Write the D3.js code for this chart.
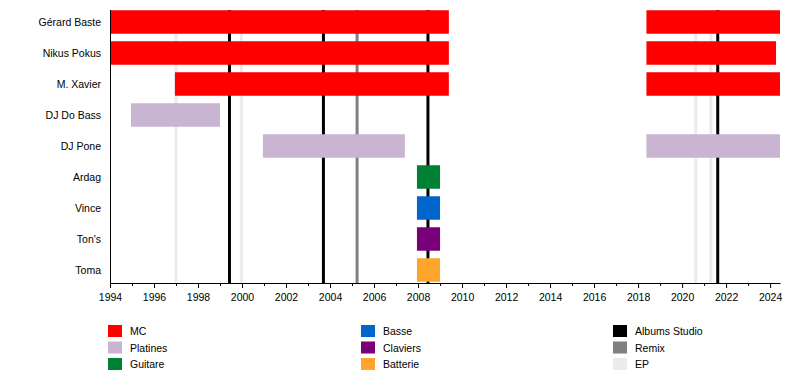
<!DOCTYPE html>
<html>
<head>
<meta charset="utf-8">
<script src="https://cdn.jsdelivr.net/npm/d3@7"></script>
<style>
  body { margin: 0; background: #fff; }
  text { font-family: "Liberation Sans", Arial, sans-serif; }
</style>
</head>
<body>
<div id="viz"></div>
<script>
// size of the picture
const F_WIDTH = 800;
const F_HEIGHT = 382;

// data
const members = ["Gérard Baste", "Nikus Pokus", "M. Xavier", "DJ Do Bass", "DJ Pone", "Ardag", "Vince", "Ton's", "Toma"];
const roles = ["MC", "Platines", "Guitare", "Basse", "Claviers", "Batterie"];
const roleColors = ["#ff0000", "#c9b4d2", "#008033", "#0066cc", "#7a007a", "#ffa52c"];

// member, role, start, end
const periods = [
  ["Gérard Baste", "MC", 1994, 2009.4],
  ["Gérard Baste", "MC", 2018.38, 2024.45],
  ["Nikus Pokus", "MC", 1994, 2009.4],
  ["Nikus Pokus", "MC", 2018.38, 2024.27],
  ["M. Xavier", "MC", 1996.95, 2009.4],
  ["M. Xavier", "MC", 2018.38, 2024.45],
  ["DJ Do Bass", "Platines", 1994.95, 1999.0],
  ["DJ Pone", "Platines", 2000.95, 2007.4],
  ["DJ Pone", "Platines", 2018.38, 2024.45],
  ["Ardag", "Guitare", 2007.95, 2009.0],
  ["Vince", "Basse", 2007.95, 2009.0],
  ["Ton's", "Claviers", 2007.95, 2009.0],
  ["Toma", "Batterie", 2007.95, 2009.0]
];

const albums = [1999.43, 2003.7, 2008.45, 2021.62];
const remixes = [2005.23];
const eps = [1997.0, 1999.97, 2020.62, 2021.31];

const releaseTypes = ["Albums Studio", "Remix", "EP"];
const releaseColors = ["#000000", "#808080", "#ebebeb"];

const majorTicks = d3.range(1994, 2025, 2);
const minorTicks = d3.range(1995, 2025, 2);

const FRAME = d3.select("#viz")
  .append("svg")
    .attr("width", F_WIDTH)
    .attr("height", F_HEIGHT);

const X_SCALE = d3.scaleLinear()
  .domain([1994, 2024.45])
  .range([110, 780]);

const Y_SCALE = d3.scaleBand()
  .domain(members)
  .range([6.5, 285.5])
  .paddingInner(0.242)
  .paddingOuter(0.121);

const COLOR = d3.scaleOrdinal().domain(roles).range(roleColors);
const AXIS_Y = 283;

// release lines (behind bars)
function releaseLines(years, color) {
  FRAME.append("g")
    .selectAll("line")
    .data(years)
    .enter()
    .append("line")
      .attr("x1", d => X_SCALE(d))
      .attr("x2", d => X_SCALE(d))
      .attr("y1", 10)
      .attr("y2", AXIS_Y)
      .attr("stroke", color)
      .attr("stroke-width", 3);
}
releaseLines(eps, releaseColors[2]);
releaseLines(remixes, releaseColors[1]);
releaseLines(albums, releaseColors[0]);

// bars
FRAME.append("g")
  .selectAll("rect")
  .data(periods)
  .enter()
  .append("rect")
    .attr("x", d => X_SCALE(d[2]))
    .attr("y", d => Y_SCALE(d[0]))
    .attr("width", d => X_SCALE(d[3]) - X_SCALE(d[2]))
    .attr("height", Y_SCALE.bandwidth())
    .attr("fill", d => COLOR(d[1]));

// member names
FRAME.append("g")
  .selectAll("text")
  .data(members)
  .enter()
  .append("text")
    .attr("x", 101)
    .attr("y", d => Y_SCALE(d) + Y_SCALE.bandwidth() / 2 + 4)
    .attr("text-anchor", "end")
    .attr("font-size", "10.5px")
    .attr("fill", "#000")
    .text(d => d);

// left line
FRAME.append("line")
  .attr("x1", 110.5).attr("x2", 110.5)
  .attr("y1", 10).attr("y2", AXIS_Y)
  .attr("stroke", "#000");

// x axis, major ticks with labels
const xAxis = FRAME.append("g")
  .attr("transform", "translate(0," + AXIS_Y + ")")
  .call(d3.axisBottom(X_SCALE).tickValues(majorTicks).tickFormat(d3.format("d")).tickSize(5).tickSizeOuter(0));
xAxis.select(".domain").attr("stroke", "#000");
xAxis.selectAll("text")
  .attr("font-family", "Liberation Sans, Arial, sans-serif")
  .attr("font-size", "10.5px")
  .attr("fill", "#000")
  .attr("dy", "0.95em");

// minor ticks
const minorAxis = FRAME.append("g")
  .attr("transform", "translate(0," + AXIS_Y + ")")
  .call(d3.axisBottom(X_SCALE).tickValues(minorTicks).tickFormat("").tickSize(3).tickSizeOuter(0));
minorAxis.select(".domain").remove();

// legend
const legendItems = [];
roles.forEach((r, i) => legendItems.push({ name: r, color: roleColors[i], col: Math.floor(i / 3), row: i % 3 }));
releaseTypes.forEach((r, i) => legendItems.push({ name: r, color: releaseColors[i], col: 2, row: i }));

const LEG_X = [108, 361, 613];
const legend = FRAME.append("g")
  .selectAll("g")
  .data(legendItems)
  .enter()
  .append("g")
    .attr("transform", d => "translate(" + LEG_X[d.col] + "," + (325 + d.row * 16.5) + ")");

legend.append("rect")
  .attr("width", 14)
  .attr("height", 12)
  .attr("fill", d => d.color);

legend.append("text")
  .attr("x", 22)
  .attr("y", 10)
  .attr("font-size", "10.5px")
  .attr("fill", "#000")
  .text(d => d.name);
</script>
</body>
</html>
